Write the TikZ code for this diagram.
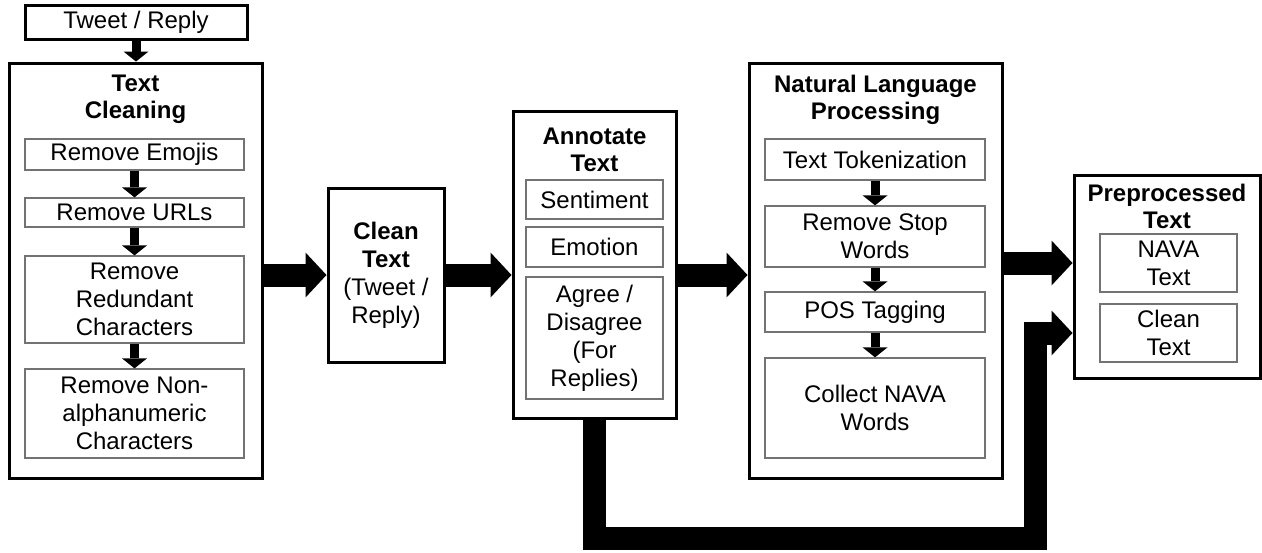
\documentclass[tikz,border=0pt]{standalone}
\usepackage{fontspec}
\setmainfont{Liberation Sans}
\usetikzlibrary{arrows.meta}

\begin{document}
\begin{tikzpicture}[x = 1pt, y = -1pt,
    every node/.style = {font=\fontsize{24}{28}\selectfont, align=center, inner sep=0pt},
    frame/.style      = {draw, line width=3pt},
    stepbox/.style    = {draw=black!55, line width=1.3pt},
    heading/.style    = {font=\fontsize{24}{27}\selectfont\bfseries},
    thin arrow/.style = {line width=9pt, -{Triangle[length=10pt, width=25pt, line width=0pt]}},
    thick arrow/.style = {line width=23pt, line join=miter, -{Triangle[length=21pt, width=45pt, line width=0pt]}}]
    \useasboundingbox (0,0) rectangle (1262,552);

    % input
    \node[frame, minimum width=222pt, minimum height=34pt] (tweet) at (136,22) {Tweet / Reply};

    % text cleaning
    \node[frame, minimum width=253pt, minimum height=415pt] (clean) at (135.5,270.5) {};
    \node[heading] (cleantitle) at (135.5,99.5) {Text\\Cleaning};
    \node[stepbox, minimum width=219pt, minimum height=31pt] (emoji)    at (134.5,154.5) {Remove Emojis};
    \node[stepbox, minimum width=219pt, minimum height=29pt] (urls)     at (134.5,212.5) {Remove URLs};
    \node[stepbox, minimum width=219pt, minimum height=87pt] (redund)   at (134.5,299.5) {Remove\\Redundant\\Characters};
    \node[stepbox, minimum width=219pt, minimum height=89pt] (nonalpha) at (134.5,413.5) {Remove Non-\\alphanumeric\\Characters};

    % clean text
    \node[frame, minimum width=116pt, minimum height=174pt] (cleantxt) at (386,275)
      {\textbf{Clean}\\\textbf{Text}\\(Tweet /\\Reply)};

    % annotation
    \node[frame, minimum width=163pt, minimum height=307pt] (annot) at (594.5,264.5) {};
    \node[heading] (annottitle) at (594.5,149.5) {Annotate\\Text};
    \node[stepbox, minimum width=137pt, minimum height=39pt]  (senti)   at (594.5,199.5) {Sentiment};
    \node[stepbox, minimum width=137pt, minimum height=40pt]  (emotion) at (594.5,247)   {Emotion};
    \node[stepbox, minimum width=137pt, minimum height=122pt] (agree)   at (594.5,338)   {Agree /\\Disagree\\(For\\Replies)};

    % natural language processing
    \node[frame, minimum width=253pt, minimum height=415pt] (nlp) at (875.5,270.5) {};
    \node[heading] (nlptitle) at (875.5,100) {Natural Language\\Processing};
    \node[stepbox, minimum width=220pt, minimum height=41pt]  (token) at (875,159.5) {Text Tokenization};
    \node[stepbox, minimum width=220pt, minimum height=61pt]  (stop)  at (875,236.5) {Remove Stop\\Words};
    \node[stepbox, minimum width=220pt, minimum height=40pt]  (pos)   at (875,312)   {POS Tagging};
    \node[stepbox, minimum width=220pt, minimum height=100pt] (nava)  at (875,408)   {Collect NAVA\\Words};

    % output
    \node[frame, minimum width=186pt, minimum height=203pt] (prep) at (1167,276.5) {};
    \node[heading] (preptitle) at (1167,206) {Preprocessed\\Text};
    \node[stepbox, minimum width=137pt, minimum height=58pt] (navatxt) at (1168.5,263) {NAVA\\Text};
    \node[stepbox, minimum width=137pt, minimum height=58pt] (cleanpp) at (1168.5,333) {Clean\\Text};

    \draw[thin arrow] (tweet.south) -- (tweet.south |- clean.north);
    \draw[thin arrow] (emoji) -- (urls);
    \draw[thin arrow] (urls) -- (redund);
    \draw[thin arrow] (redund) -- (nonalpha);
    \draw[thin arrow] (token) -- (stop);
    \draw[thin arrow] (stop) -- (pos);
    \draw[thin arrow] (pos) -- (nava);

    \draw[thick arrow] (clean.east |- cleantxt) -- (cleantxt.west);
    \draw[thick arrow] (cleantxt.east) -- (cleantxt.east -| annot.west);
    \draw[thick arrow] (annot.east |- cleantxt) -- (cleantxt -| nlp.west);
    \draw[thick arrow] (nlp.east |- navatxt) -- (navatxt -| prep.west);
    \coordinate (detour) at (1035,538);
    \draw[thick arrow] (annot.south) |- (detour) -- (detour |- cleanpp) -- (cleanpp -| prep.west);
  \end{tikzpicture}
\end{document}
